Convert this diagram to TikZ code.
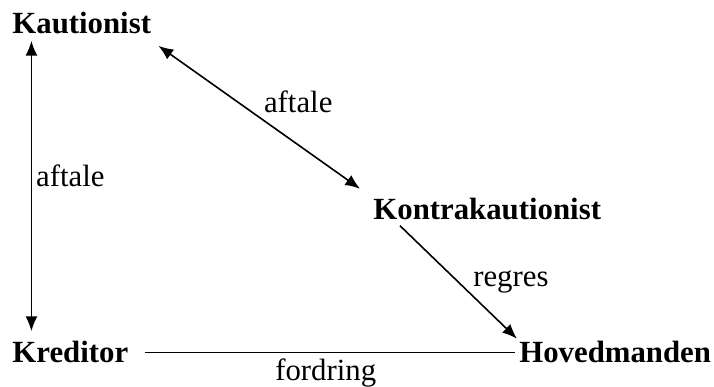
\documentclass[tikz,border=0pt]{standalone}
\usepackage{fontspec}
\setmainfont{Liberation Serif}
\usetikzlibrary{arrows.meta,positioning}

\begin{document}
\begin{tikzpicture}[
  font=\fontsize{15.4}{18}\selectfont,
  party/.style={font=\fontsize{15.4}{18}\selectfont\bfseries,anchor=base west,inner sep=2pt},
  lbl/.style={inner sep=2pt},
  flow/.style={-{Latex[length=2.6mm,width=2.1mm]},line width=0.8pt},
  both/.style={{Latex[length=2.6mm,width=2.1mm]}-{Latex[length=2.6mm,width=2.1mm]},line width=0.8pt},
  plain/.style={line width=0.8pt}]

\useasboundingbox (0,0) rectangle (12.548,6.801);

% ---- nodes ------------------------------------------------------------
\node[party] (kaut)   at (0.141,6.22)  {Kautionist};
\node[party] (kontra) at (6.485,2.935) {Kontrakautionist};
\node[party] (kred)   at (0.141,0.422) {Kreditor};
\node[party] (hoved)  at (9.05,0.422)  {Hovedmanden};

% ---- edges ------------------------------------------------------------
\draw[both,shorten <=1.5pt,shorten >=3pt]
      ([xshift=11.7pt]kaut.south west) -- ([xshift=11.7pt]kred.north west)
      node[lbl,pos=0.46,anchor=west] {aftale};
\draw[both] ([xshift=1.5pt,yshift=-4pt]kaut.south east)
      -- ([xshift=-4.5pt,yshift=2.75pt]kontra.north west)
      node[lbl,midway,above right] {aftale};
\draw[flow] ([xshift=15.5pt,yshift=-0.5pt]kontra.south west)
      -- ([xshift=1pt,yshift=-0.75pt]hoved.north west)
      node[lbl,midway,right=5pt] {regres};
\draw[plain,shorten <=6pt] (kred.east) -- (hoved.west)
      node[lbl,midway,below=1pt,xshift=1pt] {fordring};
\end{tikzpicture}
\end{document}
